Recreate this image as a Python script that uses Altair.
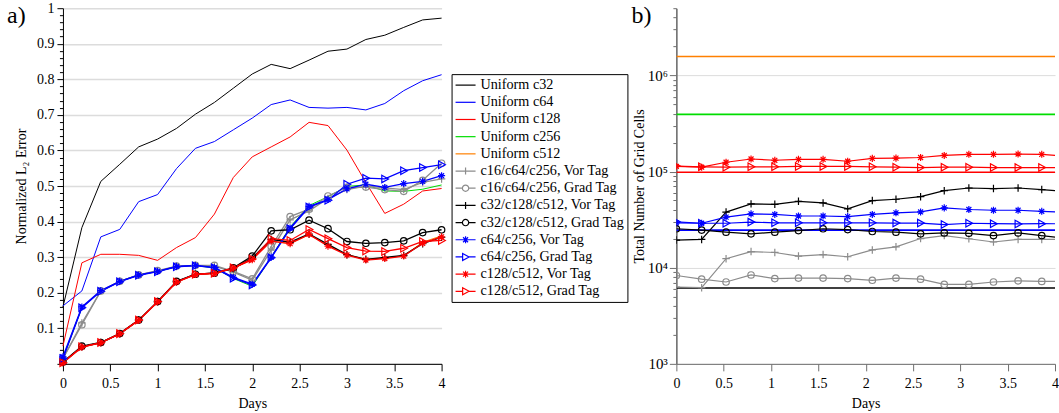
import altair as alt
import pandas as pd

FONT = "Liberation Serif"

# ---------------- panel a) normalized L2 error ----------------
days_a = [0.0, 0.2, 0.4, 0.6, 0.8, 1.0, 1.2, 1.4, 1.6, 1.8, 2.0,
          2.2, 2.4, 2.6, 2.8, 3.0, 3.2, 3.4, 3.6, 3.8, 4.0]

err_u32 = [0.160, 0.383, 0.513, 0.561, 0.610, 0.632, 0.662, 0.702, 0.735, 0.775, 0.815,
           0.842, 0.830, 0.854, 0.879, 0.885, 0.912, 0.924, 0.946, 0.967, 0.972]
err_u64 = [0.163, 0.205, 0.357, 0.378, 0.456, 0.476, 0.549, 0.606, 0.625, 0.658, 0.691,
           0.729, 0.742, 0.721, 0.719, 0.721, 0.714, 0.732, 0.768, 0.796, 0.813]
err_u128 = [0.050, 0.284, 0.308, 0.308, 0.305, 0.291, 0.327, 0.355, 0.421, 0.524, 0.582,
            0.610, 0.638, 0.679, 0.670, 0.601, 0.510, 0.423, 0.449, 0.486, 0.493]
err_u256 = [0.015, 0.158, 0.205, 0.232, 0.250, 0.260, 0.273, 0.276, 0.270, 0.240, 0.218,
            0.300, 0.385, 0.445, 0.470, 0.499, 0.503, 0.486, 0.485, 0.491, 0.503]
err_u512 = [0.003, 0.047, 0.059, 0.084, 0.122, 0.174, 0.230, 0.251, 0.254, 0.269, 0.293,
            0.345, 0.338, 0.363, 0.333, 0.307, 0.294, 0.297, 0.304, 0.342, 0.360]
err_c16_vor = [0.015, 0.115, 0.205, 0.232, 0.250, 0.261, 0.274, 0.276, 0.275, 0.258, 0.235,
               0.320, 0.405, 0.430, 0.465, 0.490, 0.500, 0.495, 0.490, 0.510, 0.520]
err_c16_grad = [0.015, 0.110, 0.205, 0.232, 0.250, 0.262, 0.275, 0.277, 0.277, 0.260, 0.239,
                0.330, 0.414, 0.435, 0.472, 0.496, 0.497, 0.490, 0.485, 0.516, 0.564]
err_c32_vor = [0.004, 0.048, 0.060, 0.085, 0.123, 0.175, 0.231, 0.252, 0.255, 0.268, 0.298,
               0.350, 0.342, 0.365, 0.336, 0.307, 0.294, 0.299, 0.305, 0.338, 0.356]
err_c32_grad = [0.005, 0.050, 0.060, 0.085, 0.123, 0.175, 0.232, 0.252, 0.255, 0.270, 0.303,
                0.374, 0.377, 0.404, 0.380, 0.344, 0.339, 0.341, 0.346, 0.369, 0.377]
err_c64_vor = [0.020, 0.160, 0.206, 0.232, 0.250, 0.260, 0.274, 0.277, 0.271, 0.243, 0.224,
               0.300, 0.382, 0.443, 0.462, 0.492, 0.505, 0.496, 0.507, 0.513, 0.529]
err_c64_grad = [0.015, 0.158, 0.204, 0.231, 0.249, 0.259, 0.273, 0.276, 0.270, 0.241, 0.222,
                0.298, 0.380, 0.441, 0.460, 0.505, 0.522, 0.520, 0.543, 0.552, 0.560]
err_c128_vor = [0.003, 0.047, 0.059, 0.084, 0.122, 0.174, 0.230, 0.251, 0.254, 0.269, 0.293,
                0.345, 0.338, 0.364, 0.331, 0.306, 0.292, 0.296, 0.303, 0.339, 0.357]
err_c128_grad = [0.003, 0.048, 0.060, 0.085, 0.123, 0.175, 0.230, 0.252, 0.255, 0.270, 0.295,
                 0.352, 0.347, 0.378, 0.352, 0.327, 0.317, 0.316, 0.325, 0.344, 0.347]

# ---------------- panel b) total number of grid cells ----------------
days_b = [0.0, 0.267, 0.525, 0.789, 1.04, 1.29, 1.55, 1.81, 2.07, 2.32, 2.58,
          2.83, 3.09, 3.35, 3.61, 3.86, 4.12]

cells_c16_vor = [6.3e3, 6.2e3, 1.24e4, 1.47e4, 1.44e4, 1.32e4, 1.37e4, 1.30e4, 1.53e4,
                 1.65e4, 2.01e4, 2.16e4, 2.00e4, 1.85e4, 1.97e4, 1.97e4, 1.97e4]
cells_c16_grad = [8.3e3, 7.6e3, 7.1e3, 8.4e3, 7.7e3, 7.8e3, 7.8e3, 7.7e3, 7.4e3,
                  7.8e3, 7.6e3, 6.7e3, 6.7e3, 7.1e3, 7.3e3, 7.2e3, 7.2e3]
cells_c32_vor = [1.94e4, 1.97e4, 3.79e4, 4.61e4, 4.56e4, 4.90e4, 4.72e4, 4.09e4, 4.99e4,
                 5.15e4, 5.48e4, 6.33e4, 6.74e4, 6.65e4, 6.74e4, 6.49e4, 6.20e4]
cells_c32_grad = [2.54e4, 2.46e4, 2.34e4, 2.25e4, 2.34e4, 2.43e4, 2.54e4, 2.49e4, 2.38e4,
                  2.34e4, 2.25e4, 2.30e4, 2.28e4, 2.16e4, 2.30e4, 2.16e4, 2.02e4]
cells_c64_vor = [2.93e4, 2.90e4, 3.36e4, 3.63e4, 3.58e4, 3.45e4, 3.45e4, 3.40e4, 3.58e4,
                 3.72e4, 3.80e4, 4.19e4, 4.03e4, 3.96e4, 3.96e4, 3.86e4, 3.76e4]
cells_c64_grad = [3.00e4, 2.90e4, 2.90e4, 2.98e4, 2.93e4, 2.93e4, 2.93e4, 2.93e4, 2.93e4,
                  2.91e4, 2.91e4, 2.81e4, 2.90e4, 2.87e4, 2.85e4, 2.87e4, 2.86e4]
cells_c128_vor = [1.13e5, 1.11e5, 1.25e5, 1.35e5, 1.31e5, 1.34e5, 1.34e5, 1.28e5, 1.37e5,
                  1.38e5, 1.40e5, 1.47e5, 1.51e5, 1.51e5, 1.52e5, 1.51e5, 1.44e5]
cells_c128_grad = [1.14e5, 1.12e5, 1.11e5, 1.12e5, 1.12e5, 1.13e5, 1.13e5, 1.13e5, 1.12e5,
                   1.11e5, 1.10e5, 1.11e5, 1.11e5, 1.10e5, 1.10e5, 1.10e5, 1.10e5]

# uniform grids: 6 faces x N x N cells
uniform_days = [0.0, 4.0]
uniform_cells = [6144, 24576, 98304, 393216, 1572864]

# ---------------- series styling ----------------
series = ["Uniform c32", "Uniform c64", "Uniform c128", "Uniform c256", "Uniform c512",
          "c16/c64/c256, Vor Tag", "c16/c64/c256, Grad Tag",
          "c32/c128/c512, Vor Tag", "c32/c128/c512, Grad Tag",
          "c64/c256, Vor Tag", "c64/c256, Grad Tag",
          "c128/c512, Vor Tag", "c128/c512, Grad Tag"]
colors = ["#000000", "#0000ff", "#ff0000", "#00dd00", "#ff8000",
          "#8c8c8c", "#8c8c8c", "#000000", "#000000",
          "#0000ff", "#0000ff", "#ff0000", "#ff0000"]
marker_of = {
    "c16/c64/c256, Vor Tag": "plus", "c16/c64/c256, Grad Tag": "circle",
    "c32/c128/c512, Vor Tag": "plus", "c32/c128/c512, Grad Tag": "circle",
    "c64/c256, Vor Tag": "star", "c64/c256, Grad Tag": "tri",
    "c128/c512, Vor Tag": "star", "c128/c512, Grad Tag": "tri",
}
marker_path = {
    "plus": "M-1,0H1M0,-1V1",
    "star": "M-1,0H1M0,-1V1M-0.7,-0.7L0.7,0.7M-0.7,0.7L0.7,-0.7",
    "tri": "M-0.8,-1L1,0L-0.8,1Z",
    "circle": "circle",
}
marker_size = {"plus": 56, "circle": 42, "star": 50, "tri": 56}
# legend glyphs: a 20 px line segment with the marker in its middle
# (the symbol box is 14 px, so one unit is 7 px)
legend_glyph = {
    None: "M-1.43,0H1.43",
    "plus": "M-1.43,0H1.43M0,-0.5V0.5",
    "star": "M-1.43,0H1.43M0,-0.5V0.5M-0.36,-0.36L0.36,0.36M-0.36,0.36L0.36,-0.36",
    "tri": "M-1.43,0H-0.42M0.5,0H1.43M-0.42,-0.5L0.5,0L-0.42,0.5Z",
    "circle": "M-1.43,0H-0.45M0.45,0H1.43M-0.45,0A0.45,0.45 0 1,0 0.45,0A0.45,0.45 0 1,0 -0.45,0",
}
legend_shapes = [legend_glyph[marker_of.get(s)] for s in series]

series_a = dict(zip(series, [err_u32, err_u64, err_u128, err_u256, err_u512,
                             err_c16_vor, err_c16_grad, err_c32_vor, err_c32_grad,
                             err_c64_vor, err_c64_grad, err_c128_vor, err_c128_grad]))
series_b = dict(zip(series[5:], [cells_c16_vor, cells_c16_grad, cells_c32_vor, cells_c32_grad,
                                 cells_c64_vor, cells_c64_grad, cells_c128_vor, cells_c128_grad]))


def to_long(t, table):
    rows = []
    for name, vals in table.items():
        for x, v in zip(t, vals):
            rows.append({"series": name, "t": x, "v": v, "kind": marker_of.get(name, "none")})
    return pd.DataFrame(rows)


df_a = to_long(days_a, series_a)
df_b = to_long(days_b, series_b)
df_bu = to_long(uniform_days, {s: [c, c] for s, c in zip(series[:5], uniform_cells)})

color_scale = alt.Scale(domain=series, range=colors)
shape_scale = alt.Scale(domain=series, range=legend_shapes)
legend_a = alt.Legend(title=None, orient="none", legendX=389, legendY=66)

# ---------------- axes ----------------
x_ticks = [0, 0.5, 1, 1.5, 2, 2.5, 3, 3.5, 4]
err_ticks = [round(0.02 * i, 2) for i in range(51)]
err_major = "abs(datum.value * 10 - round(datum.value * 10)) < 1e-6"
cell_ticks = [m * 10 ** e for e in range(3, 7) for m in range(1, 10) if m * 10 ** e <= 5e6]
cell_major = "abs(log(datum.value) / LN10 - round(log(datum.value) / LN10)) < 1e-6"


def x_axis(dom):
    return alt.Axis(values=x_ticks, format="~g", title="Days", labelFlush=False,
                    grid=False, tickSize=7, domainColor=dom, tickColor=dom,
                    labelPadding=6, titlePadding=6)


y_axis_a = alt.Axis(
    values=err_ticks,
    labelExpr=f"({err_major} && datum.value > 0.05) ? format(datum.value, '.1~f') : ''",
    tickSize={"condition": {"test": err_major, "value": 6}, "value": 3.5},
    gridColor={"condition": {"test": err_major, "value": "#dcdcdc"}, "value": "transparent"},
    gridWidth=1.5, domainColor="#000000", tickColor="#000000",
    title="Normalized L₂ Error", labelPadding=3, titlePadding=8,
)
y_axis_b = alt.Axis(
    values=cell_ticks,
    labelExpr=(f"({cell_major}) ? '10' + ['⁰','¹','²','³','⁴','⁵','⁶']"
               "[round(log(datum.value) / LN10)] : ''"),
    tickSize={"condition": {"test": cell_major, "value": 7}, "value": 3.5},
    gridColor={"condition": {"test": cell_major, "value": "#dcdcdc"}, "value": "transparent"},
    gridWidth=1, domainColor="#6e6e6e", tickColor="#6e6e6e", domainWidth=1.6,
    title="Total Number of Grid Cells", labelPadding=2, titlePadding=1, labelFontSize=15,
)

W, H = 379, 356

# ---------------- panel a) ----------------
base_a = alt.Chart(df_a).encode(
    x=alt.X("t:Q", scale=alt.Scale(domain=[0, 4], nice=False), axis=x_axis("#000000")),
    y=alt.Y("v:Q", scale=alt.Scale(domain=[0, 1], nice=False), axis=y_axis_a),
    color=alt.Color("series:N", scale=color_scale, legend=legend_a),
)
lines_a_uniform = base_a.transform_filter("datum.kind == 'none'").mark_line(strokeWidth=1.0)
lines_a_tagged = base_a.transform_filter("datum.kind != 'none'").mark_line(strokeWidth=1.3)
marks_a = [
    base_a.transform_filter(f"datum.kind == '{k}'").mark_point(
        shape=marker_path[k], filled=False, size=marker_size[k], strokeWidth=1.2, opacity=1)
    for k in ["plus", "circle", "star", "tri"]
]

# carries the legend only: no rows survive the filter, the entries come from the scale domains
legend_layer = alt.Chart(pd.DataFrame({"series": series})).transform_filter("false").mark_point(
    filled=False, opacity=1).encode(
    color=alt.Color("series:N", scale=color_scale, legend=legend_a),
    shape=alt.Shape("series:N", scale=shape_scale, legend=legend_a),
)

label_a = alt.Chart(pd.DataFrame({"lbl": ["a)"]})).mark_text(
    font=FONT, fontSize=24, align="left", baseline="alphabetic", color="#000000"
).encode(x=alt.value(-56), y=alt.value(15), text="lbl:N")

panel_a = alt.layer(lines_a_uniform, lines_a_tagged, *marks_a, legend_layer, label_a).properties(
    width=W, height=H)

# ---------------- panel b) ----------------
xb = alt.X("t:Q", scale=alt.Scale(domain=[0, 4], nice=False), axis=x_axis("#6e6e6e"))
yb = alt.Y("v:Q", scale=alt.Scale(type="log", domain=[1e3, 5e6], nice=False), axis=y_axis_b)
cb = alt.Color("series:N", scale=color_scale, legend=None)

lines_b_uniform = alt.Chart(df_bu).mark_line(strokeWidth=1.6, clip=True).encode(
    x=xb, y=yb, color=cb)
base_b = alt.Chart(df_b).encode(x=xb, y=yb, color=cb)
lines_b_tagged = base_b.mark_line(strokeWidth=1.2, clip=True)
marks_b = [
    base_b.transform_filter(f"datum.kind == '{k}'").mark_point(
        shape=marker_path[k], filled=False, size=marker_size[k], strokeWidth=1.2,
        opacity=1, clip=True)
    for k in ["plus", "circle", "star", "tri"]
]
label_b = alt.Chart(pd.DataFrame({"lbl": ["b)"]})).mark_text(
    font=FONT, fontSize=24, align="left", baseline="alphabetic", color="#000000"
).encode(x=alt.value(-45), y=alt.value(15), text="lbl:N")

panel_b = alt.layer(lines_b_uniform, lines_b_tagged, *marks_b, label_b).properties(
    width=W, height=H)

chart = alt.hconcat(panel_a, panel_b, spacing=235, bounds="flush").resolve_scale(
    color="independent", shape="independent"
).properties(
    padding={"left": 7, "top": 1, "right": 0, "bottom": 4}
).configure_view(stroke=None).configure_axis(
    labelFont=FONT, titleFont=FONT, labelFontSize=14, titleFontSize=14,
    labelColor="#000000", titleColor="#000000", titleFontWeight="normal",
).configure_legend(
    labelFont=FONT, labelFontSize=14.2, labelColor="#000000", labelLimit=0,
    strokeColor="#000000", strokeWidth=1, padding=3, rowPadding=1.2,
    symbolSize=196, symbolStrokeWidth=1.2, symbolOffset=3, labelOffset=7,
    fillColor="#ffffff",
)

chart.save("out.html", embed_options={"renderer": "svg", "actions": False})
